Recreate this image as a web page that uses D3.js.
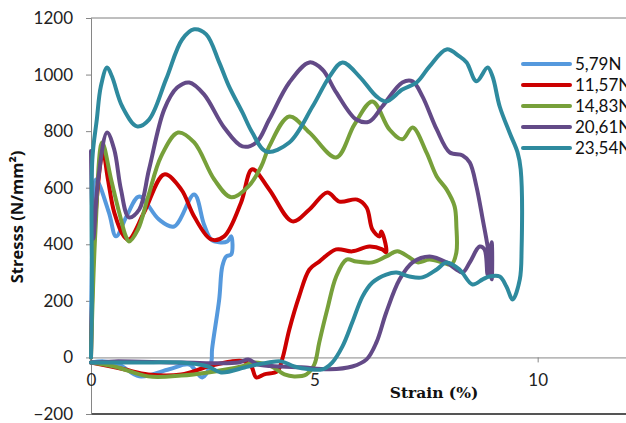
<!DOCTYPE html>
<html>
<head>
<meta charset="utf-8">
<script src="https://cdn.jsdelivr.net/npm/d3@7"></script>
<style>
  body { margin: 0; background: #fff; }
  svg { display: block; }
  .serif-title { font-family: "DejaVu Serif", "Liberation Serif", serif; }
</style>
</head>
<body>
<div id="chart"></div>
<script>
let w = 626;
let h = 423;

// legend labels + colours
let seriesNames = ["5,79N", "11,57N", "14,83N", "20,61N", "23,54N"];
let seriesColors = ["#5599dd", "#cc0000", "#77a03a", "#634a87", "#2e8a9e"];

let xTicks = [0, 5, 10];
let yTicks = [-200, 0, 200, 400, 600, 800, 1000, 1200];

// [strain %, stress N/mm2], each one loop
let s579 = [[0,0],[0.03,400],[0.11,629],[0.4,513],[0.56,428],[0.8,500],[1.08,569],[1.52,488],[1.86,463],
  [2.31,576],[2.53,470],[2.69,417],[2.87,407],[3.05,410],[3.14,428],[3.14,364],[3.03,357],[2.94,322],
  [2.87,205],[2.71,28],[2.69,-18],[2.49,-71],[2.2,-25],[1.75,-42],[1.08,-67],[0.63,-25],[0.29,-14],[0,-18]];

let s1157 = [[0,0],[0.1,500],[0.27,725],[0.38,629],[0.52,513],[0.74,428],[0.85,417],[1.19,513],[1.64,647],
  [2.02,594],[2.31,498],[2.69,417],[2.98,428],[3.36,548],[3.61,665],[3.99,594],[4.51,481],[4.89,523],
  [5.29,583],[5.56,551],[5.96,558],[6.17,530],[6.3,452],[6.46,428],[6.5,445],[6.57,417],[6.61,371],
  [6.52,382],[6.23,392],[5.85,375],[5.49,382],[5.11,339],[4.89,311],[4.66,216],[4.44,99],[4.28,-7],
  [4.17,-49],[3.88,-60],[3.7,-71],[3.59,-32],[3.43,-14],[3.14,-14],[2.62,-32],[2.02,-60],[1.28,-60],
  [0.74,-42],[0,-18]];

let s1483 = [[0,0],[0.1,450],[0.25,760],[0.45,629],[0.63,513],[0.78,428],[0.85,410],[1.05,452],[1.28,569],
  [1.57,711],[1.95,795],[2.31,760],[2.76,629],[3.14,566],[3.52,604],[3.81,675],[3.99,746],[4.44,852],
  [4.89,795],[5.49,707],[5.9,824],[6.3,905],[6.68,806],[6.97,771],[7.2,813],[7.51,725],[7.74,640],
  [7.96,594],[8.14,534],[8.18,463],[8.18,371],[8.07,329],[7.87,336],[7.58,346],[7.31,336],[7.13,353],
  [6.86,375],[6.61,357],[6.3,336],[5.94,339],[5.72,346],[5.49,286],[5.29,170],[5.11,53],[5.0,-25],
  [4.82,-60],[4.55,-67],[4.33,-60],[4.04,-32],[3.65,-18],[3.36,-32],[2.62,-53],[2.02,-64],[1.28,-67],
  [0.52,-32],[0,-18]];

let s2061 = [[0,730],[0.05,420],[0.16,629],[0.36,795],[0.52,735],[0.67,594],[0.85,495],[1.08,523],[1.3,665],
  [1.64,877],[1.93,954],[2.2,972],[2.53,930],[2.98,813],[3.39,746],[3.7,760],[3.99,841],[4.44,972],
  [4.89,1043],[5.18,1018],[5.49,937],[5.94,841],[6.23,834],[6.52,887],[6.97,972],[7.2,976],[7.42,923],
  [7.74,806],[8.03,725],[8.32,714],[8.48,689],[8.63,604],[8.77,488],[8.88,392],[8.97,276],[8.97,407],
  [8.88,293],[8.81,382],[8.7,392],[8.48,336],[8.32,300],[8.18,311],[7.96,336],[7.58,357],[7.2,336],
  [6.91,276],[6.61,159],[6.39,53],[6.17,-7],[5.85,-32],[5.34,-42],[4.71,-35],[4.26,-32],[3.74,-25],
  [3.52,-7],[3.3,-18],[2.02,-18],[0.52,-14],[0,-18]];

let s2354 = [[0,0],[0.02,205],[0.03,700],[0.13,841],[0.22,958],[0.36,1025],[0.47,993],[0.7,887],[1.03,817],
  [1.3,841],[1.68,983],[2.04,1124],[2.31,1160],[2.58,1142],[2.87,1043],[3.09,958],[3.39,866],[3.61,795],
  [3.92,728],[4.44,760],[4.96,887],[5.34,993],[5.63,1043],[6.01,993],[6.39,923],[6.61,905],[6.97,947],
  [7.29,972],[7.58,1029],[7.96,1089],[8.25,1064],[8.41,1043],[8.63,976],[8.88,1025],[8.99,993],[9.15,887],
  [9.37,795],[9.55,725],[9.62,665],[9.64,382],[9.6,276],[9.44,205],[9.3,251],[9.15,286],[8.92,286],
  [8.77,276],[8.54,258],[8.25,311],[7.96,336],[7.74,311],[7.42,283],[7.13,286],[6.84,300],[6.61,293],
  [6.3,265],[6.08,216],[5.85,124],[5.63,39],[5.4,-18],[5.18,-42],[4.89,-42],[4.55,-32],[4.26,-14],
  [3.97,-18],[3.52,-32],[2.91,-53],[2.62,-32],[2.02,-18],[1.28,-18],[0.52,-18],[0,-18]];

let allSeries = [s579, s1157, s1483, s2061, s2354];

let viz = d3.select("#chart")
  .append("svg")
  .attr("width", w)
  .attr("height", h)
  .style("font-family", "Lato, 'Open Sans', sans-serif");

let xScale = d3.scaleLinear().domain([0, 12]).range([91, 627]);
let yScale = d3.scaleLinear().domain([-200, 1200]).range([414, 18]);

// plot frame top + bottom
viz.append("line").attr("x1", 91).attr("x2", w).attr("y1", 18).attr("y2", 18)
  .attr("stroke", "#7f7f7f").attr("stroke-width", 1);
viz.append("line").attr("x1", 91).attr("x2", w).attr("y1", 414).attr("y2", 414)
  .attr("stroke", "#555").attr("stroke-width", 2);

// y axis
let yAxis = d3.axisLeft(yScale).tickValues(yTicks).tickFormat(d3.format("d")).tickSize(5).tickPadding(13);
let yAxisGroup = viz.append("g").attr("transform", "translate(" + xScale(0) + ",0)").call(yAxis);
yAxisGroup.select(".domain").attr("stroke", "#868686");
yAxisGroup.selectAll(".tick line").attr("stroke", "#868686");
yAxisGroup.selectAll("text").attr("font-size", 17).attr("fill", "#222").style("font-family", "Lato, sans-serif");

// x axis sits on stress = 0
let xAxis = d3.axisBottom(xScale).tickValues(xTicks).tickSize(5).tickPadding(12).tickSizeOuter(0);
let xAxisGroup = viz.append("g").attr("transform", "translate(0," + yScale(0) + ")").call(xAxis);
xAxisGroup.select(".domain").attr("stroke", "#868686");
xAxisGroup.selectAll(".tick line").attr("stroke", "#868686");
xAxisGroup.selectAll("text").attr("font-size", 17).attr("fill", "#222").style("font-family", "Lato, sans-serif");

// axis titles
viz.append("text")
  .attr("transform", "translate(23,217) rotate(-90)")
  .attr("text-anchor", "middle")
  .attr("font-size", 16.5)
  .attr("font-weight", "bold")
  .attr("fill", "#111")
  .style("font-family", "'Open Sans', sans-serif")
  .text("Stresss (N/mm²)");

viz.append("text")
  .attr("class", "serif-title")
  .attr("x", 434)
  .attr("y", 398)
  .attr("text-anchor", "middle")
  .attr("font-size", 15.5)
  .attr("font-weight", "bold")
  .attr("fill", "#111")
  .text("Strain (%)");

// the loops
let line = d3.line()
  .x(d => xScale(d[0]))
  .y(d => yScale(d[1]))
  .curve(d3.curveCatmullRom.alpha(0.5));

viz.selectAll(".loop").data(allSeries).enter()
  .append("path")
  .attr("class", "loop")
  .attr("d", d => line(d))
  .attr("fill", "none")
  .attr("stroke", (d, i) => seriesColors[i])
  .attr("stroke-width", 4)
  .attr("stroke-linejoin", "round")
  .attr("stroke-linecap", "round");

// legend
let legend = viz.selectAll(".legend").data(seriesNames).enter()
  .append("g")
  .attr("class", "legend")
  .attr("transform", (d, i) => "translate(523," + (64 + i * 21) + ")");

legend.append("line")
  .attr("x1", 0).attr("x2", 47)
  .attr("stroke", (d, i) => seriesColors[i])
  .attr("stroke-width", 4)
  .attr("stroke-linecap", "round");

legend.append("text")
  .attr("x", 52)
  .attr("y", 6)
  .attr("font-size", 17)
  .attr("fill", "#111")
  .style("font-family", "Lato, sans-serif")
  .text(d => d);
</script>
</body>
</html>
